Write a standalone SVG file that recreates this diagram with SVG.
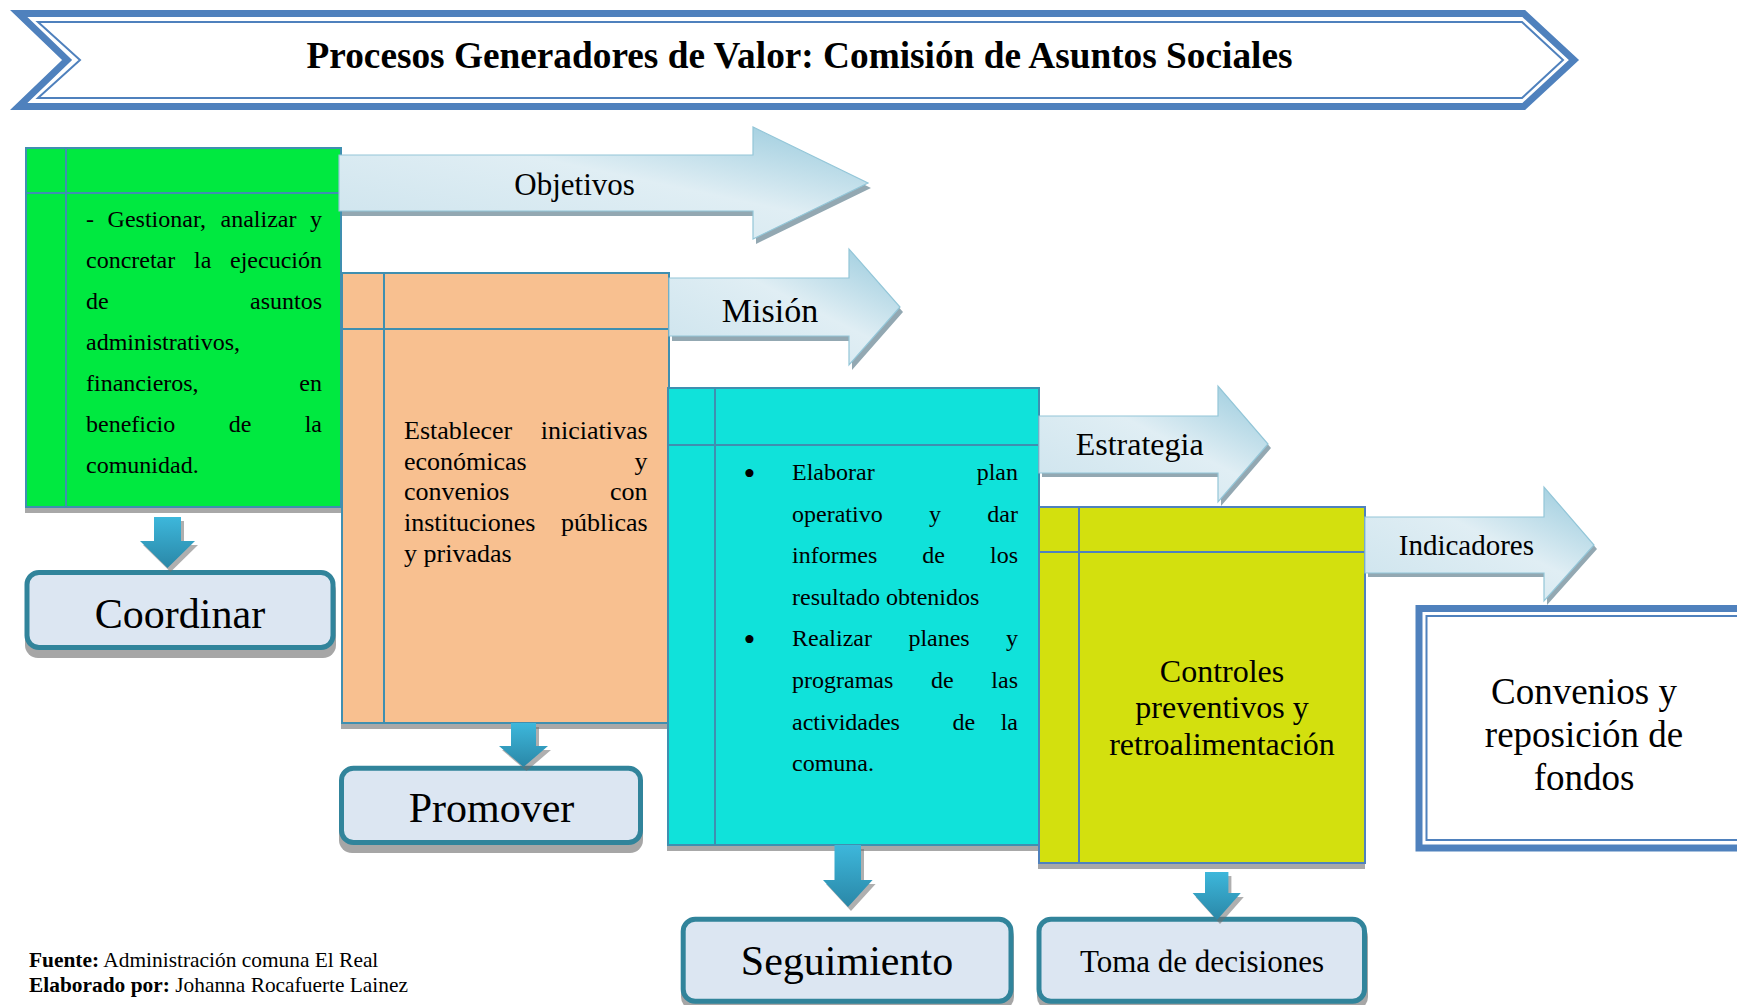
<svg xmlns="http://www.w3.org/2000/svg" width="1737" height="1005" viewBox="0 0 1737 1005">
<style>
  text{font-family:"Liberation Serif","Times New Roman",serif;fill:#000}
  .shadow{fill:#A8A8A8}
  .grid{stroke:#3F8FB0;stroke-width:2;fill:none}
  .gridY{stroke:#4F81BD;stroke-width:2;fill:none}
  .rarrow{fill:url(#gR);stroke:#93C6D8;stroke-width:1.2}
  .rshadow{fill:#93A8B2}
  .darrow{fill:url(#gD)}
  .dshadow{fill:#6E6E6E;opacity:.55}
  .pill{fill:#DCE6F2;stroke:#31849B;stroke-width:5}
  .pshadow{fill:#A6A6A6}
  .t24{font-size:24px}
  .t26{font-size:26px}
  .big{font-size:42px;text-anchor:middle}
  .mid{text-anchor:middle}
  .end{text-anchor:end}
  .bul{font-size:34px;text-anchor:middle}
</style>
<defs>
  <linearGradient id="gR" x1="0" y1="1" x2="1" y2="0">
    <stop offset="0" stop-color="#CCE3ED"/>
    <stop offset="0.55" stop-color="#E0EEF4"/>
    <stop offset="1" stop-color="#96C9DC"/>
  </linearGradient>
  <linearGradient id="gD" x1="0" y1="0" x2="0" y2="1">
    <stop offset="0" stop-color="#3DB7DB"/>
    <stop offset="1" stop-color="#2A87A7"/>
  </linearGradient>
</defs>
<rect width="1737" height="1005" fill="#fff"/>

<g id="title">
  <polygon points="18.7,13.5 1523.7,13.5 1573.9,60 1523.7,106.5 18.7,106.5 67.1,60" fill="#fff" stroke="#4F81BD" stroke-width="7"/>
  <polygon points="38,22 1522,22 1563,60 1522,98 38,98 80,60" fill="none" stroke="#4F81BD" stroke-width="2"/>
  <text x="799.5" y="68" class="mid" style="font-size:37.3px;font-weight:bold">Procesos Generadores de Valor: Comisión de Asuntos Sociales</text>
</g>

<g id="box-green">
  <rect class="shadow" x="25" y="154" width="316" height="359"/>
  <rect x="26" y="148" width="315" height="359" fill="#00E940"/>
  <rect class="grid" x="26" y="148" width="315" height="359"/>
  <line class="grid" x1="66" y1="148" x2="66" y2="507"/>
  <line class="grid" x1="26" y1="193" x2="341" y2="193"/>
  <g class="t24">
    <text x="86" y="226.5">-</text><text x="107.6" y="226.5">Gestionar,</text><text x="220.5" y="226.5">analizar</text><text x="322" y="226.5" class="end">y</text>
    <text x="86" y="267.6">concretar</text><text x="194" y="267.6">la</text><text x="322" y="267.6" class="end">ejecución</text>
    <text x="86" y="308.7">de</text><text x="322" y="308.7" class="end">asuntos</text>
    <text x="86" y="349.8">administrativos,</text>
    <text x="86" y="390.9">financieros,</text><text x="322" y="390.9" class="end">en</text>
    <text x="86" y="432">beneficio</text><text x="228.7" y="432">de</text><text x="322" y="432" class="end">la</text>
    <text x="86" y="473.1">comunidad.</text>
  </g>
</g>

<g id="box-orange">
  <rect class="shadow" x="341" y="279" width="328" height="450"/>
  <rect x="342" y="273" width="327" height="450" fill="#F8C090"/>
  <rect class="grid" x="342" y="273" width="327" height="450"/>
  <line class="grid" x1="384" y1="273" x2="384" y2="723"/>
  <line class="grid" x1="342" y1="329" x2="669" y2="329"/>
  <g class="t26">
    <text x="404" y="439.2">Establecer</text><text x="647.6" y="439.2" class="end">iniciativas</text>
    <text x="404" y="469.8">económicas</text><text x="647.6" y="469.8" class="end">y</text>
    <text x="404" y="500.4">convenios</text><text x="647.6" y="500.4" class="end">con</text>
    <text x="404" y="531">instituciones</text><text x="647.6" y="531" class="end">públicas</text>
    <text x="404" y="561.6">y privadas</text>
  </g>
</g>

<g id="box-cyan">
  <rect class="shadow" x="667" y="394" width="372" height="457"/>
  <rect x="668" y="388" width="371" height="457" fill="#10E2DA"/>
  <rect class="grid" x="668" y="388" width="371" height="457"/>
  <line class="grid" x1="715" y1="388" x2="715" y2="845"/>
  <line class="grid" x1="668" y1="445" x2="1039" y2="445"/>
  <g class="t24">
    <text x="749.5" y="484.5" class="bul">•</text>
    <text x="792" y="480">Elaborar</text><text x="1018" y="480" class="end">plan</text>
    <text x="792" y="521.6">operativo</text><text x="929" y="521.6">y</text><text x="1018" y="521.6" class="end">dar</text>
    <text x="792" y="563.2">informes</text><text x="922.3" y="563.2">de</text><text x="1018" y="563.2" class="end">los</text>
    <text x="792" y="604.8">resultado obtenidos</text>
    <text x="749.5" y="650.9" class="bul">•</text>
    <text x="792" y="646.4">Realizar</text><text x="908.4" y="646.4">planes</text><text x="1018" y="646.4" class="end">y</text>
    <text x="792" y="688">programas</text><text x="931" y="688">de</text><text x="1018" y="688" class="end">las</text>
    <text x="792" y="729.6">actividades</text><text x="952.5" y="729.6">de</text><text x="1018" y="729.6" class="end">la</text>
    <text x="792" y="771.2">comuna.</text>
  </g>
</g>

<g id="box-yellow">
  <rect class="shadow" x="1038" y="513" width="327" height="356"/>
  <rect x="1039" y="507" width="326" height="356" fill="#D3E00E"/>
  <rect class="gridY" x="1039" y="507" width="326" height="356"/>
  <line class="gridY" x1="1079" y1="507" x2="1079" y2="863"/>
  <line class="gridY" x1="1039" y1="552" x2="1365" y2="552"/>
  <g style="font-size:32px">
    <text x="1222" y="681.7" class="mid">Controles</text>
    <text x="1222" y="718.4" class="mid">preventivos y</text>
    <text x="1222" y="755" class="mid">retroalimentación</text>
  </g>
</g>

<g id="box-convenios">
  <rect x="1419" y="608.5" width="400" height="239.5" fill="#fff" stroke="#4F81BD" stroke-width="7"/>
  <rect x="1426.5" y="616" width="400" height="224" fill="none" stroke="#4F81BD" stroke-width="2"/>
  <g style="font-size:37px">
    <text x="1584" y="704" class="mid">Convenios y</text>
    <text x="1584" y="747" class="mid">reposición de</text>
    <text x="1584" y="790" class="mid">fondos</text>
  </g>
</g>

<g id="node-coordinar">
  <rect class="pshadow" x="25" y="578" width="311" height="80" rx="13"/>
  <rect class="pill" x="27" y="572.5" width="306" height="75" rx="12"/>
  <text x="180" y="628" class="big">Coordinar</text>
</g>
<g id="node-promover">
  <rect class="pshadow" x="339" y="773" width="304" height="80" rx="13"/>
  <rect class="pill" x="341.5" y="768.2" width="299" height="74.3" rx="12"/>
  <text x="491.5" y="821.7" class="big">Promover</text>
</g>
<g id="node-seguimiento">
  <rect class="pshadow" x="681" y="924" width="333" height="86" rx="13"/>
  <rect class="pill" x="683.2" y="919.2" width="327.8" height="82" rx="12"/>
  <text x="847" y="975" class="big">Seguimiento</text>
</g>
<g id="node-toma">
  <rect class="pshadow" x="1037" y="924" width="331" height="86" rx="13"/>
  <rect class="pill" x="1039" y="919.2" width="325.5" height="82" rx="12"/>
  <text x="1202" y="971.7" class="mid" style="font-size:31px">Toma de decisiones</text>
</g>

<g id="connectors">
  <g id="arrow-objetivos">
    <polygon class="rshadow" transform="translate(3,5)" points="339,155 753,155 753,127 868,183 753,239 753,211 339,211"/>
    <polygon class="rarrow" points="339,155 753,155 753,127 868,183 753,239 753,211 339,211"/>
    <text x="574.6" y="195" class="mid" style="font-size:31px">Objetivos</text>
  </g>
  <g id="arrow-mision">
    <polygon class="rshadow" transform="translate(3,5)" points="669,278 849,278 849,249 900,307 849,365 849,336 669,336"/>
    <polygon class="rarrow" points="669,278 849,278 849,249 900,307 849,365 849,336 669,336"/>
    <text x="770" y="322" class="mid" style="font-size:34px">Misión</text>
  </g>
  <g id="arrow-estrategia">
    <polygon class="rshadow" transform="translate(3,4)" points="1039,416 1218,416 1218,386 1268,444 1218,502 1218,473 1039,473"/>
    <polygon class="rarrow" points="1039,416 1218,416 1218,386 1268,444 1218,502 1218,473 1039,473"/>
    <text x="1139.7" y="455" class="mid" style="font-size:32px">Estrategia</text>
  </g>
  <g id="arrow-indicadores">
    <polygon class="rshadow" transform="translate(3,4)" points="1365,517 1544,517 1544,487 1594,545 1544,601 1544,573 1365,573"/>
    <polygon class="rarrow" points="1365,517 1544,517 1544,487 1594,545 1544,601 1544,573 1365,573"/>
    <text x="1466.4" y="555" class="mid" style="font-size:29px">Indicadores</text>
  </g>
  <g id="down-arrows">
    <polygon class="dshadow" transform="translate(3,4)" points="154,517 181,517 181,541 195,541 167.5,568 140,541 154,541"/>
    <polygon class="darrow" points="154,517 181,517 181,541 195,541 167.5,568 140,541 154,541"/>
    <polygon class="dshadow" transform="translate(3,4)" points="511,723 536,723 536,746 548,746 523.5,767 499,746 511,746"/>
    <polygon class="darrow" points="511,723 536,723 536,746 548,746 523.5,767 499,746 511,746"/>
    <polygon class="dshadow" transform="translate(3,4)" points="834.5,845 861,845 861,880 872.6,880 848,907 823,880 834.5,880"/>
    <polygon class="darrow" points="834.5,845 861,845 861,880 872.6,880 848,907 823,880 834.5,880"/>
    <polygon class="dshadow" transform="translate(3,4)" points="1205,872 1228.4,872 1228.4,893 1240.8,893 1217,920 1192.6,893 1205,893"/>
    <polygon class="darrow" points="1205,872 1228.4,872 1228.4,893 1240.8,893 1217,920 1192.6,893 1205,893"/>
  </g>
</g>

<g id="footer" style="font-size:21.4px">
  <text x="29" y="966.7"><tspan font-weight="bold">Fuente:</tspan> Administración comuna El Real</text>
  <text x="29" y="991.7"><tspan font-weight="bold">Elaborado por:</tspan> Johanna Rocafuerte Lainez</text>
</g>
</svg>
